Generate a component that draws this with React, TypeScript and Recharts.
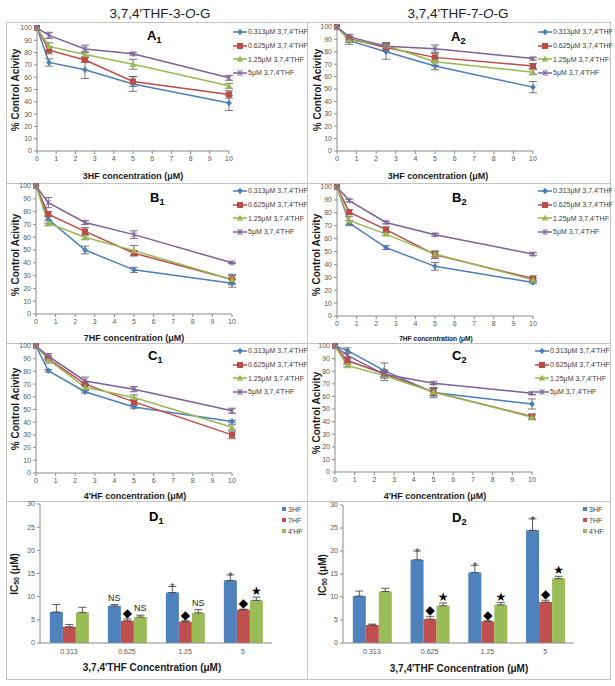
import {
  Bar,
  BarChart,
  ErrorBar,
  LabelList,
  Legend,
  Line,
  LineChart,
  XAxis,
  YAxis,
} from "recharts"

const FONT = '"Liberation Sans", Arial, sans-serif'
const AXIS = "#8c8c8c"
const TICK = { fontSize: 7, fill: "#595959" }

// shared x values for panels A-C (µM of 3HF / 7HF / 4'HF)
const concentrations = [0, 0.625, 2.5, 5, 10]
const concTicks = [0, 1, 2, 3, 4, 5, 6, 7, 8, 9, 10]
const pctTicks = [0, 10, 20, 30, 40, 50, 60, 70, 80, 90, 100]
const doseNames = ["0.313μM 3,7,4'THF", "0.625μM 3,7,4'THF", "1.25μM 3,7,4'THF", "5μM 3,7,4'THF"]
const lineColors = ["#4A7EBB", "#BE4B48", "#98B954", "#7D60A0"]
const markerShapes = ["diamond", "square", "triangle", "star"]

// % control activity, one row per 3,7,4'THF dose
const a1Values = [
  [100, 72, 66, 54.5, 39],
  [100, 82, 74, 56.5, 46],
  [100, 85, 78.5, 70.5, 53],
  [100, 94, 83, 79, 59.5],
]
const a1Errors = [
  [0, 3, 7, 6, 6],
  [0, 3, 2, 4, 3],
  [0, 3, 2, 4, 2],
  [0, 2.5, 3, 1, 2],
]
const a2Values = [
  [100, 89, 80, 68.5, 51.5],
  [100, 90.5, 83.5, 75.5, 68.5],
  [100, 89.5, 85, 72, 63.5],
  [100, 92, 84.5, 82.5, 74.5],
]
const a2Errors = [
  [0, 3, 6, 3, 4.5],
  [0, 2, 3, 3, 2],
  [0, 2, 2, 3, 2],
  [0, 2, 3, 3, 1],
]
const b1Values = [
  [100, 74, 50, 34.5, 24],
  [100, 78, 64.5, 47.5, 27],
  [100, 71, 60, 49.5, 27],
  [100, 87, 71.5, 62, 40],
]
const b1Errors = [
  [0, 3, 3, 2, 3],
  [0, 2, 3, 2, 4],
  [0, 2, 2, 4, 3],
  [0, 4, 1.5, 3, 0.5],
]
const b2Values = [
  [100, 72, 53, 38.5, 26],
  [100, 80.5, 67, 47.5, 29],
  [100, 74, 63.5, 48, 28],
  [100, 89.5, 72.5, 63, 48],
]
const b2Errors = [
  [0, 2, 1.5, 3, 1],
  [0, 2, 2, 3, 2],
  [0, 3, 1, 2, 1],
  [0, 1, 1, 1, 1],
]
const c1Values = [
  [100, 80.5, 64, 52, 40.5],
  [100, 90, 70, 56, 30],
  [100, 89.5, 67.5, 59.5, 36],
  [100, 92, 72.5, 66, 49],
]
const c1Errors = [
  [0, 1, 1, 1, 1],
  [0, 1, 1, 2, 3],
  [0, 3, 2, 2, 2],
  [0, 2, 3, 2, 2],
]
const c2Values = [
  [100, 96.5, 80.5, 63, 54],
  [100, 88.5, 78, 63.5, 44],
  [100, 84.5, 76.5, 63.5, 43.5],
  [100, 92.5, 77.5, 70.5, 62.5],
]
const c2Errors = [
  [0, 2, 6, 4, 4],
  [0, 2, 3, 3, 2],
  [0, 1, 4, 3, 2],
  [0, 2, 2, 1, 1],
]

// IC50 panels
const icCategories = ["0.313", "0.625", "1.25", "5"]
const icNames = ["3HF", "7HF", "4'HF"]
const barColors = ["#4F81BD", "#C0504D", "#9BBB59"]
const icTicks = [0, 5, 10, 15, 20, 25, 30]

const d1Values = [
  [6.7, 8.0, 10.9, 13.5],
  [3.5, 4.8, 4.6, 7.2],
  [6.6, 5.6, 6.5, 9.2],
]
const d1Errors = [
  [1.6, 0.3, 1.3, 1.2],
  [0.5, 0.4, 0.2, 0.1],
  [1.1, 0.4, 0.7, 0.7],
]
const d1Marks = [
  ["", "NS", "*", "*"],
  ["", "◆", "◆", "◆"],
  ["", "NS", "NS", "★"],
]
const d2Values = [
  [10.2, 18.1, 15.3, 24.5],
  [3.9, 5.2, 4.7, 8.9],
  [11.2, 8.1, 8.3, 14.0],
]
const d2Errors = [
  [1.1, 1.9, 1.6, 2.5],
  [0.2, 0.6, 0.1, 0.4],
  [0.7, 0.6, 0.5, 0.5],
]
const d2Marks = [
  ["", "*", "*", "*"],
  ["", "◆", "◆", "◆"],
  ["", "★", "★", "★"],
]

type Box = { x: number; y: number; w: number; h: number }

function Marker({ cx, cy, shape, color }: { cx: number; cy: number; shape: string; color: string }) {
  if (cx == null || cy == null) return null
  if (shape === "diamond")
    return <path d={`M${cx} ${cy - 3.2}L${cx + 2.8} ${cy}L${cx} ${cy + 3.2}L${cx - 2.8} ${cy}Z`} fill={color} />
  if (shape === "square") return <rect x={cx - 3} y={cy - 3} width={6} height={6} fill={color} />
  if (shape === "triangle")
    return <path d={`M${cx} ${cy - 3.3}L${cx + 3.3} ${cy + 2.6}L${cx - 3.3} ${cy + 2.6}Z`} fill={color} />
  return (
    <g stroke={color} strokeWidth={1}>
      <line x1={cx - 2.5} y1={cy - 2.5} x2={cx + 2.5} y2={cy + 2.5} />
      <line x1={cx - 2.5} y1={cy + 2.5} x2={cx + 2.5} y2={cy - 2.5} />
      <line x1={cx} y1={cy - 3} x2={cx} y2={cy + 3} />
    </g>
  )
}

function DoseLegend() {
  return (
    <div style={{ fontSize: 7, color: "#404040" }}>
      {doseNames.map((name, k) => (
        <div key={name} style={{ display: "flex", alignItems: "center", height: 13.6, whiteSpace: "nowrap" }}>
          <svg width={14} height={8}>
            <line x1={0} y1={4} x2={14} y2={4} stroke={lineColors[k]} strokeWidth={1.5} />
            <Marker cx={7} cy={4} shape={markerShapes[k]} color={lineColors[k]} />
          </svg>
          <span style={{ marginLeft: 1 }}>{name}</span>
        </div>
      ))}
    </div>
  )
}

function IcLegend() {
  return (
    <div style={{ fontSize: 7, color: "#404040" }}>
      {icNames.map((name, k) => (
        <div key={name} style={{ display: "flex", alignItems: "center", height: 11, whiteSpace: "nowrap" }}>
          <span style={{ width: 4, height: 4, background: barColors[k], marginRight: 2 }} />
          <span>{name}</span>
        </div>
      ))}
    </div>
  )
}

function lineRows(values: number[][], errors: number[][]) {
  return concentrations.map((c, i) => {
    const row: Record<string, number> = { conc: c }
    values.forEach((s, k) => {
      row[`v${k}`] = s[i]
      row[`e${k}`] = errors[k][i]
    })
    return row
  })
}

type PanelProps = {
  box: Box
  plot: number[] // left, top, right, bottom (page coords)
  xTitle: string
  xTitleAt: number[] // centre x, baseline, font size
  yTitleAt: number[] // centre x, centre y
  legendAt: number[] // left, first row centre
}

function LinePanel({ box, plot, values, errors, xTitle, xTitleAt, yTitleAt, legendAt }: PanelProps & { values: number[][]; errors: number[][] }) {
  const margin = { top: plot[1] - box.y, right: box.x + box.w - plot[2], bottom: 0, left: 0 }
  return (
    <div style={{ position: "absolute", left: box.x, top: box.y }}>
      <LineChart width={box.w} height={box.h} data={lineRows(values, errors)} margin={margin}>
        <XAxis
          type="number"
          dataKey="conc"
          domain={[0, 10]}
          ticks={concTicks}
          interval={0}
          height={box.y + box.h - plot[3]}
          stroke={AXIS}
          tickSize={3}
          tickMargin={2}
          tick={TICK}
          label={() => (
            <text x={xTitleAt[0] - box.x} y={xTitleAt[1] - box.y} textAnchor="middle" fontSize={xTitleAt[2]} fontWeight="bold" fill="#1a1a1a">
              {xTitle}
            </text>
          )}
        />
        <YAxis
          type="number"
          domain={[0, 100]}
          ticks={pctTicks}
          interval={0}
          width={plot[0] - box.x}
          stroke={AXIS}
          tickSize={3}
          tickMargin={2}
          tick={TICK}
          label={() => (
            <text
              transform={`translate(${yTitleAt[0] - box.x},${yTitleAt[1] - box.y}) rotate(-90)`}
              textAnchor="middle"
              dominantBaseline="central"
              fontSize={10}
              fontWeight="bold"
              fill="#1a1a1a"
            >
              % Control Acivity
            </text>
          )}
        />
        <Legend
          layout="vertical"
          align="center"
          verticalAlign="middle"
          wrapperStyle={{ left: legendAt[0] - box.x, top: legendAt[1] - box.y - 6.8, width: 75 }}
          content={() => <DoseLegend />}
        />
        {values.map((_, k) => (
          <Line
            key={k}
            type="linear"
            dataKey={`v${k}`}
            name={doseNames[k]}
            stroke={lineColors[k]}
            strokeWidth={1.5}
            isAnimationActive={false}
            activeDot={false}
            dot={(p: any) => <Marker key={`${k}-${p.index}`} cx={p.cx} cy={p.cy} shape={markerShapes[k]} color={lineColors[k]} />}
          >
            <ErrorBar dataKey={`e${k}`} width={4} stroke="#555" strokeWidth={0.8} direction="y" />
          </Line>
        ))}
      </LineChart>
    </div>
  )
}

function markLabel(values: number[], errors: number[]) {
  return (props: any) => {
    const vb = props.viewBox ?? props
    const { index, value } = props
    if (!value || vb == null) return null
    const perUnit = vb.height / values[index]
    const top = vb.y - errors[index] * perUnit
    const cx = vb.x + vb.width / 2
    if (value === "NS")
      return <text x={cx} y={top - 4} textAnchor="middle" fontSize={9} fill="#222">NS</text>
    if (value === "*")
      return <text x={cx} y={top + 5} textAnchor="middle" fontSize={11} fill="#444">*</text>
    return (
      <text x={cx} y={top - 2} textAnchor="middle" fontSize={12} fill="#000" fontFamily="DejaVu Sans">
        {value}
      </text>
    )
  }
}

function BarPanel({ box, plot, values, errors, marks, xTitle, xTitleAt, yTitleAt, legendAt }: PanelProps & { values: number[][]; errors: number[][]; marks: string[][] }) {
  const rows = icCategories.map((c, i) => {
    const row: Record<string, any> = { cat: c }
    values.forEach((s, k) => {
      row[`v${k}`] = s[i]
      row[`e${k}`] = [0, errors[k][i]]
      row[`m${k}`] = marks[k][i]
    })
    return row
  })
  const margin = { top: plot[1] - box.y, right: box.x + box.w - plot[2], bottom: 0, left: 0 }
  return (
    <div style={{ position: "absolute", left: box.x, top: box.y }}>
      <BarChart width={box.w} height={box.h} data={rows} margin={margin} barCategoryGap="17%" barGap={0}>
        <XAxis
          dataKey="cat"
          height={box.y + box.h - plot[3]}
          stroke={AXIS}
          tickLine={false}
          tickSize={0}
          tickMargin={6}
          tick={TICK}
          label={() => (
            <text x={xTitleAt[0] - box.x} y={xTitleAt[1] - box.y} textAnchor="middle" fontSize={xTitleAt[2]} fontWeight="bold" fill="#1a1a1a">
              {xTitle}
            </text>
          )}
        />
        <YAxis
          type="number"
          domain={[0, 30]}
          ticks={icTicks}
          interval={0}
          width={plot[0] - box.x}
          stroke={AXIS}
          tickSize={3}
          tickMargin={2}
          tick={TICK}
          label={() => (
            <text
              transform={`translate(${yTitleAt[0] - box.x},${yTitleAt[1] - box.y}) rotate(-90)`}
              textAnchor="middle"
              dominantBaseline="central"
              fontSize={10}
              fontWeight="bold"
              fill="#1a1a1a"
            >
              IC<tspan fontSize={7} dy={2}>50</tspan>
              <tspan dy={-2}> (μM)</tspan>
            </text>
          )}
        />
        <Legend
          layout="vertical"
          align="center"
          verticalAlign="middle"
          wrapperStyle={{ left: legendAt[0] - box.x, top: legendAt[1] - box.y - 5.5, width: 30 }}
          content={() => <IcLegend />}
        />
        {values.map((_, k) => (
          <Bar key={k} dataKey={`v${k}`} name={icNames[k]} fill={barColors[k]} isAnimationActive={false}>
            <ErrorBar dataKey={`e${k}`} width={4} stroke="#333" strokeWidth={0.8} direction="y" />
            <LabelList dataKey={`m${k}`} content={markLabel(values[k], errors[k])} />
          </Bar>
        ))}
      </BarChart>
    </div>
  )
}

function Letter({ x, y, l, n }: { x: number; y: number; l: string; n: string }) {
  return (
    <text x={x} y={y} fontSize={13} fontWeight="bold" fill="#000">
      {l}
      <tspan fontSize={9} dy={3}>{n}</tspan>
    </text>
  )
}

export default function App() {
  const frame = { stroke: "#c4c4c4", fill: "none" }
  return (
    <div style={{ position: "absolute", left: 0, top: 0, width: 615, height: 686, background: "#fff", fontFamily: FONT }}>
      <svg width={615} height={686} style={{ position: "absolute", left: 0, top: 0 }}>
        <rect x={6.5} y={22.5} width={301} height={161} {...frame} />
        <rect x={307.5} y={22.5} width={303} height={161} {...frame} />
        <rect x={6.5} y={183.5} width={301} height={160} {...frame} />
        <rect x={307.5} y={183.5} width={303} height={160} {...frame} />
        <rect x={6.5} y={343.5} width={301} height={158} {...frame} />
        <rect x={307.5} y={343.5} width={303} height={158} {...frame} />
        <rect x={6.5} y={501.5} width={301} height={178} {...frame} />
        <rect x={307.5} y={501.5} width={303} height={178} {...frame} />
        <text x={160} y={17.5} textAnchor="middle" fontSize={13.5} fill="#222">
          3,7,4'THF-3-<tspan fontStyle="italic">O</tspan>-G
        </text>
        <text x={458} y={17.5} textAnchor="middle" fontSize={13.5} fill="#222">
          3,7,4'THF-7-<tspan fontStyle="italic">O</tspan>-G
        </text>
        <Letter x={147} y={40} l="A" n="1" />
        <Letter x={451} y={41} l="A" n="2" />
        <Letter x={150} y={202} l="B" n="1" />
        <Letter x={452} y={202} l="B" n="2" />
        <Letter x={148} y={360} l="C" n="1" />
        <Letter x={452} y={360} l="C" n="2" />
        <Letter x={149} y={521} l="D" n="1" />
        <Letter x={452} y={522} l="D" n="2" />
      </svg>

      <LinePanel box={{ x: 6, y: 16, w: 301, h: 167 }} plot={[37, 28, 229, 151]} values={a1Values} errors={a1Errors}
        xTitle="3HF concentration (μM)" xTitleAt={[133, 178.5, 9]} yTitleAt={[15, 90]} legendAt={[233, 32]} />
      <LinePanel box={{ x: 307, y: 16, w: 303, h: 167 }} plot={[337, 27, 533, 151]} values={a2Values} errors={a2Errors}
        xTitle="3HF concentration (μM)" xTitleAt={[438, 178.5, 9]} yTitleAt={[317, 90]} legendAt={[538, 32]} />
      <LinePanel box={{ x: 6, y: 177, w: 301, h: 166 }} plot={[36, 186, 232, 314]} values={b1Values} errors={b1Errors}
        xTitle="7HF concentration (μM)" xTitleAt={[134, 340.5, 9]} yTitleAt={[15, 255]} legendAt={[233, 191]} />
      <LinePanel box={{ x: 307, y: 177, w: 303, h: 166 }} plot={[337, 187, 533, 316]} values={b2Values} errors={b2Errors}
        xTitle="7HF concentration (μM)" xTitleAt={[436, 340.5, 6.6]} yTitleAt={[316, 255]} legendAt={[538, 191]} />
      <LinePanel box={{ x: 6, y: 337, w: 301, h: 164 }} plot={[36, 346, 232, 473]} values={c1Values} errors={c1Errors}
        xTitle="4'HF concentration (μM)" xTitleAt={[135, 498.5, 9]} yTitleAt={[15.5, 409]} legendAt={[233, 351]} />
      <LinePanel box={{ x: 307, y: 337, w: 303, h: 164 }} plot={[335, 346, 532, 472]} values={c2Values} errors={c2Errors}
        xTitle="4'HF concentration (μM)" xTitleAt={[435, 499, 9]} yTitleAt={[316, 413]} legendAt={[535, 351]} />
      <BarPanel box={{ x: 6, y: 495, w: 301, h: 184 }} plot={[40, 504, 272, 643]} values={d1Values} errors={d1Errors} marks={d1Marks}
        xTitle="3,7,4'THF Concentration (μM)" xTitleAt={[152, 670.5, 10]} yTitleAt={[14, 574]} legendAt={[282, 509]} />
      <BarPanel box={{ x: 307, y: 495, w: 303, h: 184 }} plot={[343, 505, 574, 643]} values={d2Values} errors={d2Errors} marks={d2Marks}
        xTitle="3,7,4'THF Concentration (μM)" xTitleAt={[459, 671.5, 10]} yTitleAt={[322, 575]} legendAt={[583, 509]} />
    </div>
  )
}
